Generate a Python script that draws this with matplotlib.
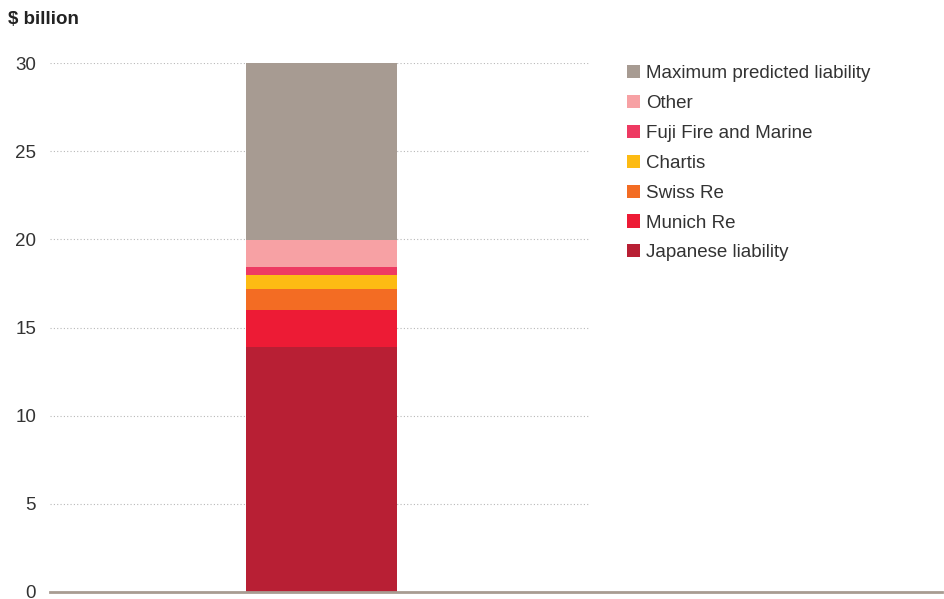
import matplotlib.pyplot as plt

plt.rcParams['font.family'] = ['Liberation Sans', 'DejaVu Sans']

# --- Data ($ billion) ---
categories = ["Japanese liability", "Munich Re", "Swiss Re", "Chartis",
              "Fuji Fire and Marine", "Other", "Maximum predicted liability"]
values = [13.9, 2.1, 1.2, 0.8, 0.45, 1.5, 10.1]
colors = ["#b81f34", "#ed1b35", "#f36c23", "#fdbb13",
          "#ee3a62", "#f7a1a4", "#a79b92"]
yticks = [0, 5, 10, 15, 20, 25, 30]

fig = plt.figure(figsize=(9.44, 5.99), dpi=100)
ax = fig.add_axes([50 / 944, 7 / 599, 892 / 944, 529 / 599])

# --- Stacked bar ---
handles = []
bottom = 0
for name, val, col in zip(categories, values, colors):
    h = ax.bar(0, val, bottom=bottom, width=1.0, color=col, label=name, zorder=3)
    handles.append(h)
    bottom += val

ax.set_xlim(-1.795, 4.11)
ax.set_ylim(0, 30)

# dotted gridlines, only across the left part
for t in yticks[1:]:
    ax.axhline(t, xmin=0, xmax=0.603, color="#b8b8b8", linestyle=(0, (1, 2)),
               linewidth=0.8, zorder=1)
ax.axhline(0, color="#a89c92", linewidth=2, zorder=4, clip_on=False)

for s in ax.spines.values():
    s.set_visible(False)
ax.set_xticks([])
ax.set_yticks(yticks)
ax.set_yticklabels([str(t) for t in yticks], fontsize=13.5, color="#333333",
                   va="center_baseline")
ax.tick_params(axis="y", length=0, pad=10)

fig.text(8 / 944, 1 - 20 / 599, "$ billion", fontsize=13.5, fontweight="bold",
         color="#222222", va="center", ha="left")

leg = ax.legend(handles[::-1], categories[::-1], loc="upper left",
                bbox_to_anchor=(627 / 944, 1 - 65 / 599),
                bbox_transform=fig.transFigure, frameon=False, fontsize=13.5,
                handlelength=0.7, handleheight=0.7, handletextpad=0.3,
                labelspacing=0.68, borderaxespad=0, borderpad=0)
for t in leg.get_texts():
    t.set_color("#333333")

plt.savefig("out.png", dpi=100)
plt.close()
